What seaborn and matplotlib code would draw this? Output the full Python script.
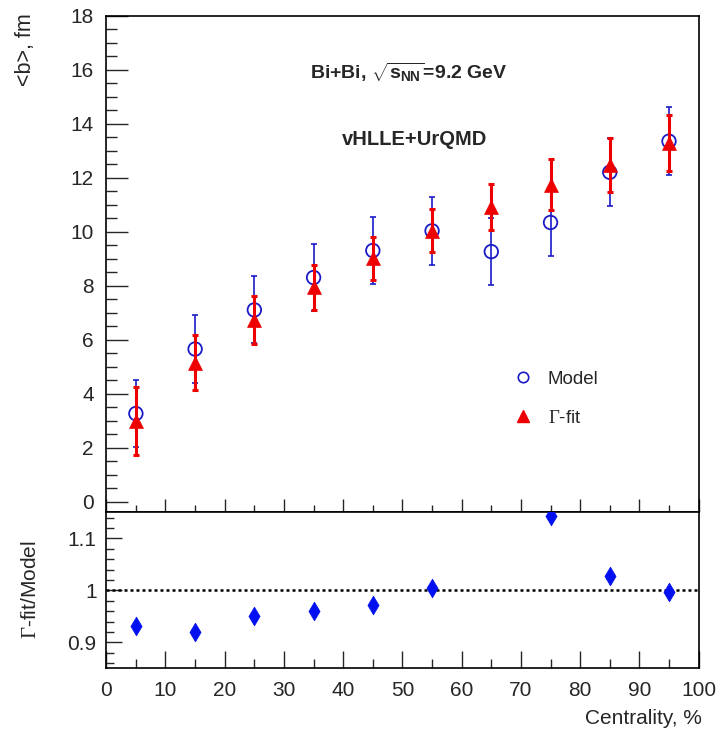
import numpy as np
import pandas as pd
import matplotlib
matplotlib.use("Agg")
import matplotlib.pyplot as plt
from matplotlib.lines import Line2D
from matplotlib.ticker import MultipleLocator
import seaborn as sns

# ---- data ----
centrality = [5, 15, 25, 35, 45, 55, 65, 75, 85, 95]
model_b = [3.26, 5.65, 7.10, 8.30, 9.30, 10.03, 9.26, 10.34, 12.20, 13.35]
model_err = [1.25, 1.26, 1.24, 1.24, 1.25, 1.25, 1.25, 1.26, 1.26, 1.25]
gfit_b = [2.98, 5.15, 6.72, 7.94, 9.02, 10.03, 10.91, 11.74, 12.48, 13.29]
gfit_err = [1.25, 1.02, 0.89, 0.83, 0.80, 0.80, 0.85, 0.95, 1.00, 1.03]
ratio_x = [5, 15, 25, 35, 45, 55, 75, 85, 95]
ratio_y = [0.931, 0.920, 0.950, 0.961, 0.971, 1.004, 1.142, 1.028, 0.997]
x_ticks = [0, 10, 20, 30, 40, 50, 60, 70, 80, 90, 100]
x_ticklabels = ["0", "10", "20", "30", "40", "50", "60", "70", "80", "90", "100"]
top_yticks = [0, 2, 4, 6, 8, 10, 12, 14, 16, 18]
bot_yticks = [0.9, 1.0, 1.1]
bot_yticklabels = ["0.9", "1", "1.1"]

df_model = pd.DataFrame({"c": centrality, "b": model_b, "e": model_err})
df_gfit = pd.DataFrame({"c": centrality, "b": gfit_b, "e": gfit_err})
df_ratio = pd.DataFrame({"c": ratio_x, "r": ratio_y})

sns.set_theme(style="white")
plt.rcParams["font.family"] = ["Liberation Sans", "DejaVu Sans"]
plt.rcParams["mathtext.fontset"] = "custom"
plt.rcParams["mathtext.rm"] = "Liberation Sans"
plt.rcParams["mathtext.bf"] = "Liberation Sans:bold"
plt.rcParams["mathtext.it"] = "Liberation Sans:italic"
plt.rcParams["mathtext.sf"] = "Liberation Serif"

BLUE = "#1a1ac8"
RED = "#ee0000"
DBLUE = "#0010f0"
FS = 15

fig = plt.figure(figsize=(7.18, 7.32), dpi=100)
L, W = 0.148, 0.825
ax = fig.add_axes([L, 0.3001, W, 0.6784])
axr = fig.add_axes([L, 0.0870, W, 0.2131])

# ---- top panel ----
ax.errorbar(df_model["c"], df_model["b"], yerr=df_model["e"], fmt="none",
            ecolor=BLUE, elinewidth=1.2, capsize=2.5, capthick=1.2, zorder=2)
sns.scatterplot(data=df_model, x="c", y="b", ax=ax, marker="o", s=95,
                facecolor="none", edgecolor=BLUE, linewidth=1.3, zorder=3, legend=False)
ax.errorbar(df_gfit["c"], df_gfit["b"], yerr=df_gfit["e"], fmt="none",
            ecolor=RED, elinewidth=2.2, capsize=2.5, capthick=2.2, zorder=4)
sns.scatterplot(data=df_gfit, x="c", y="b", ax=ax, marker="^", s=100,
                color=RED, edgecolor=RED, linewidth=0.5, zorder=5, legend=False)

ax.set_xlim(0, 100)
ax.set_ylim(-0.4, 18)
ax.set_yticks(top_yticks)
ax.yaxis.set_minor_locator(MultipleLocator(0.5))
ax.set_xticks(x_ticks)
ax.xaxis.set_minor_locator(MultipleLocator(5))
ax.tick_params(axis="x", which="both", direction="in", bottom=True, top=False,
               labelbottom=False)
ax.tick_params(axis="x", which="major", length=9.5, width=1.0)
ax.tick_params(axis="x", which="minor", length=5, width=1.0)
ax.tick_params(axis="y", which="both", direction="in", left=True, right=False,
               labelsize=FS, pad=9)
ax.tick_params(axis="y", which="major", length=16, width=1.0)
ax.tick_params(axis="y", which="minor", length=8, width=1.0)
ax.set_xlabel("")
ax.set_ylabel("")
for s in ax.spines.values():
    s.set_linewidth(1.2)
    s.set_color("black")

ax.text(0.51, 0.885, r"Bi+Bi, $\sqrt{\mathbf{s_{NN}}}$=9.2 GeV", transform=ax.transAxes,
        ha="center", va="center", fontsize=14, fontweight="bold")
ax.text(0.52, 0.750, "vHLLE+UrQMD", transform=ax.transAxes,
        ha="center", va="center", fontsize=14.5, fontweight="bold")

handles = [
    Line2D([], [], linestyle="none", marker="o", markersize=7.5,
           markerfacecolor="none", markeredgecolor=BLUE, markeredgewidth=1.2),
    Line2D([], [], linestyle="none", marker="^", markersize=8.5,
           color=RED),
]
ax.legend(handles, ["Model", r"$\mathsf{\Gamma}$-fit"], loc="center left",
          bbox_to_anchor=(0.688, 0.229), frameon=False, fontsize=13.5,
          handlelength=1.0, handletextpad=0.8, labelspacing=1.15,
          borderpad=0, borderaxespad=0)

fig.text(0.035, 0.982, "<b>, fm", rotation=90, ha="center", va="top", fontsize=15.5)

# ---- ratio panel ----
axr.axhline(1.0, color="black", linestyle=(0, (1.2, 1.2)), linewidth=1.8, zorder=1)
sns.scatterplot(data=df_ratio, x="c", y="r", ax=axr, marker="d", s=90,
                color=DBLUE, edgecolor=DBLUE, linewidth=0.5, zorder=3, legend=False)
axr.set_xlim(0, 100)
axr.set_ylim(0.85, 1.15)
axr.set_yticks(bot_yticks)
axr.set_yticklabels(bot_yticklabels)
axr.yaxis.set_minor_locator(MultipleLocator(0.02))
axr.set_xticks(x_ticks)
axr.set_xticklabels(x_ticklabels)
axr.xaxis.set_minor_locator(MultipleLocator(5))
axr.tick_params(axis="x", which="both", direction="in", bottom=True, top=False,
                labelsize=FS, pad=9)
axr.tick_params(axis="x", which="major", length=12, width=1.0)
axr.tick_params(axis="x", which="minor", length=6.5, width=1.0)
axr.tick_params(axis="y", which="both", direction="in", left=True, right=False,
                labelsize=FS, pad=7)
axr.tick_params(axis="y", which="major", length=11.5, width=1.0)
axr.tick_params(axis="y", which="minor", length=5.8, width=1.0)
axr.set_xlabel("")
axr.set_ylabel("")
for s in axr.spines.values():
    s.set_linewidth(1.2)
    s.set_color("black")

fig.text(0.978, 0.006, "Centrality, %", ha="right", va="bottom", fontsize=FS)
fig.text(0.043, 0.195, r"$\mathsf{\Gamma}$-fit/Model", rotation=90, ha="center",
         va="center", fontsize=FS)

fig.savefig("out.png", dpi=100, facecolor="white")
